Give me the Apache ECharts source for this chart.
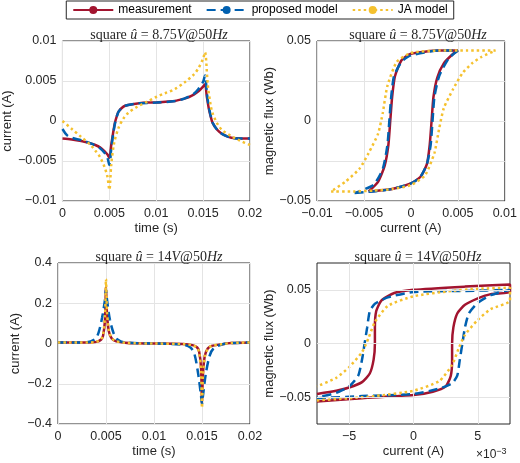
<!DOCTYPE html>
<html>
<head>
<meta charset="utf-8">
<script src="https://cdn.jsdelivr.net/npm/echarts@6.0.0/dist/echarts.min.js"></script>
<style>body{margin:0}#chart{width:520px;height:463px}</style>
</head>
<body>
<div id="chart"></div>
<script>
// top-left: current vs time, 8.75V
const measTL = [[0,-0.0022],[0.001,-0.0023],[0.002,-0.0025],[0.003,-0.0028],[0.0035,-0.003],[0.004,-0.0033],[0.0045,-0.0038],[0.0048,-0.0042],[0.005,-0.0046],[0.0052,-0.003],[0.0054,-0.0015],[0.0056,-0.0002],[0.0058,0.0006],[0.006,0.0012],[0.0065,0.0018],[0.007,0.002],[0.008,0.0022],[0.009,0.0023],[0.01,0.0023],[0.011,0.0024],[0.012,0.0025],[0.013,0.0028],[0.0135,0.003],[0.014,0.0033],[0.0145,0.0037],[0.015,0.0043],[0.0152,0.0046],[0.0154,0.003],[0.0156,0.0016],[0.0158,0.0006],[0.016,-0.0002],[0.0165,-0.0011],[0.017,-0.0016],[0.0175,-0.0019],[0.018,-0.0021],[0.019,-0.0022],[0.02,-0.0022]];
const propTL = [[0,-0.001],[0.0005,-0.0018],[0.001,-0.0021],[0.002,-0.0024],[0.003,-0.0028],[0.004,-0.0034],[0.0045,-0.004],[0.0048,-0.0046],[0.005,-0.0055],[0.0052,-0.0035],[0.0054,-0.0017],[0.0056,-0.0003],[0.0058,0.0006],[0.006,0.0012],[0.0065,0.0018],[0.007,0.002],[0.008,0.0022],[0.01,0.0023],[0.012,0.0025],[0.013,0.0028],[0.014,0.0034],[0.0145,0.004],[0.015,0.0049],[0.0152,0.0057],[0.0154,0.0035],[0.0156,0.0018],[0.0158,0.0007],[0.016,-0.0002],[0.0165,-0.0011],[0.017,-0.0016],[0.018,-0.0021],[0.019,-0.0022],[0.02,-0.0022]];
const jaTL = [[0,0],[0.001,-0.001],[0.002,-0.002],[0.003,-0.003],[0.0035,-0.0037],[0.004,-0.0045],[0.0045,-0.0058],[0.0048,-0.007],[0.005,-0.0086],[0.0052,-0.0055],[0.0055,-0.0028],[0.006,-0.0008],[0.0065,0.0003],[0.007,0.001],[0.008,0.0018],[0.009,0.0024],[0.01,0.003],[0.011,0.0035],[0.012,0.004],[0.013,0.0048],[0.014,0.0058],[0.0145,0.0066],[0.015,0.0078],[0.0152,0.0086],[0.0155,0.0045],[0.0158,0.002],[0.016,0.001],[0.0165,-0.0003],[0.017,-0.0011],[0.018,-0.0019],[0.019,-0.0025],[0.02,-0.003]];

// top-right: flux vs current, 8.75V
const measTR = [[-0.0045,-0.044],[-0.002,-0.0425],[0,-0.039],[0.001,-0.035],[0.0017,-0.027],[0.002,-0.015],[0.0022,0],[0.0024,0.015],[0.0028,0.027],[0.0035,0.036],[0.0045,0.042],[0.005,0.044],[0.003,0.044],[0,0.042],[-0.001,0.038],[-0.0017,0.028],[-0.002,0.015],[-0.0022,0],[-0.0024,-0.015],[-0.0028,-0.028],[-0.0035,-0.038],[-0.0045,-0.044]];
const propTR = [[-0.006,-0.045],[-0.004,-0.044],[-0.002,-0.0425],[0,-0.039],[0.001,-0.035],[0.0017,-0.027],[0.0021,-0.015],[0.0023,0],[0.0025,0.015],[0.003,0.028],[0.004,0.039],[0.005,0.044],[0.003,0.044],[0,0.041],[-0.001,0.037],[-0.0018,0.028],[-0.0021,0.015],[-0.0023,0],[-0.0025,-0.015],[-0.003,-0.03],[-0.004,-0.04],[-0.006,-0.045]];
const jaTR = [[-0.0085,-0.044],[-0.006,-0.044],[-0.004,-0.0435],[-0.002,-0.0425],[0,-0.04],[0.0015,-0.034],[0.0025,-0.02],[0.003,-0.005],[0.0035,0.008],[0.0045,0.02],[0.0055,0.03],[0.0065,0.036],[0.0075,0.04],[0.009,0.044],[0.006,0.044],[0.003,0.044],[0,0.0425],[-0.0015,0.037],[-0.0025,0.022],[-0.003,0.005],[-0.0035,-0.008],[-0.0045,-0.02],[-0.0055,-0.03],[-0.007,-0.038],[-0.0085,-0.044]];

// bottom-left: current vs time, 14V
const measBL = [[0,0.005],[0.003,0.005],[0.004,0.008],[0.0045,0.02],[0.0047,0.04],[0.0049,0.12],[0.005,0.28],[0.0051,0.15],[0.0053,0.06],[0.0056,0.025],[0.006,0.012],[0.007,0.004],[0.008,0.001],[0.01,0],[0.013,-0.003],[0.014,-0.008],[0.0145,-0.02],[0.0147,-0.04],[0.0149,-0.12],[0.015,-0.3],[0.0151,-0.15],[0.0153,-0.06],[0.0156,-0.025],[0.016,-0.012],[0.017,-0.004],[0.018,0.002],[0.02,0.005]];
const propBL = [[0,0.005],[0.003,0.006],[0.0038,0.02],[0.0042,0.05],[0.0046,0.13],[0.0049,0.22],[0.005,0.27],[0.0051,0.22],[0.0054,0.12],[0.0058,0.05],[0.0062,0.02],[0.007,0.005],[0.01,0],[0.013,-0.006],[0.0138,-0.02],[0.0142,-0.05],[0.0146,-0.15],[0.0149,-0.26],[0.015,-0.3],[0.0151,-0.26],[0.0154,-0.15],[0.0158,-0.06],[0.0162,-0.025],[0.017,-0.006],[0.018,0.002],[0.02,0.005]];
const jaBL = [[0,0.005],[0.003,0.005],[0.004,0.009],[0.0045,0.022],[0.0047,0.045],[0.0049,0.14],[0.005,0.32],[0.0051,0.16],[0.0053,0.065],[0.0056,0.027],[0.006,0.012],[0.007,0.004],[0.008,0.001],[0.01,0],[0.013,-0.003],[0.014,-0.009],[0.0145,-0.022],[0.0147,-0.045],[0.0149,-0.14],[0.015,-0.32],[0.0151,-0.16],[0.0153,-0.065],[0.0156,-0.027],[0.016,-0.012],[0.017,-0.004],[0.018,0.002],[0.02,0.005]];

// bottom-right: flux vs current (x in 1e-3 A), 14V
const measBR = [[-7.5,-0.054],[-4,-0.051],[0,-0.048],[1.5,-0.045],[2.5,-0.04],[2.9,-0.03],[3,-0.015],[3,0],[3.1,0.015],[3.4,0.028],[4,0.036],[5,0.042],[6,0.046],[7.5,0.048],[7.5,0.055],[4,0.053],[0,0.05],[-1.5,0.047],[-2.5,0.04],[-2.9,0.03],[-3,0.015],[-3,0],[-3.1,-0.015],[-3.4,-0.028],[-4,-0.036],[-5,-0.041],[-6,-0.044],[-7.5,-0.047]];
const propBR = [[-7.5,-0.051],[-4,-0.049],[0,-0.047],[2,-0.042],[3,-0.037],[3.4,-0.03],[3.6,-0.015],[3.8,0],[4,0.015],[4.3,0.028],[5,0.038],[6,0.045],[7.5,0.05],[4,0.049],[0,0.048],[-2,0.043],[-3,0.037],[-3.4,0.03],[-3.6,0.015],[-3.8,0],[-4,-0.015],[-4.3,-0.03],[-5,-0.04],[-6,-0.046],[-7.5,-0.05]];
const jaBR = [[-7.5,-0.053],[-5,-0.051],[-3,-0.049],[0,-0.044],[2,-0.035],[3,-0.02],[3.5,-0.005],[4,0.008],[5,0.022],[6,0.032],[7.5,0.04],[7.5,0.052],[5,0.051],[3,0.049],[0,0.044],[-2,0.035],[-3,0.02],[-3.5,0.005],[-4,-0.008],[-5,-0.022],[-6,-0.032],[-7.5,-0.04]];

const RED = '#A2142F', BLUE = '#0060B0', YEL = '#F5C12E';
const minus = v => String(+v.toPrecision(6)).replace('-', '\u2212');
const font = {fontFamily: 'Liberation Sans, Arial', fontSize: 12.5, color: '#262626'};

function xAx(i, min, max, interval, name, extra) {
  return Object.assign({
    type: 'value', gridIndex: i, min: min, max: max, interval: interval,
    name: name, nameLocation: 'middle', nameGap: 21,
    nameTextStyle: {fontFamily: 'Liberation Sans, Arial', fontSize: 13, color: '#262626'},
    axisLine: {show: false}, axisTick: {show: false},
    axisLabel: Object.assign({formatter: minus, margin: 6}, font),
    splitLine: {lineStyle: {color: '#e4e4e4'}}
  }, extra || {});
}
function yAx(i, min, max, interval, name, extra) {
  return xAx(i, min, max, interval, name, Object.assign({nameGap: 36}, extra || {}));
}
function ser(name, data, i, color, type) {
  return {
    name: name, type: 'line', data: data, xAxisIndex: i, yAxisIndex: i,
    symbol: 'none', smooth: 0.3, z: name === 'measurement' ? 2 : (type === 'dashed' ? 3 : 4),
    lineStyle: {color: color, width: 2.5, type: type === 'dashed' ? [9, 5] : (type === 'dotted' ? [2.5, 3] : 'solid')},
    itemStyle: {color: color}
  };
}
const title = (txt, left, top) => ({
  text: '{n|square} {i|\u00fb} {n|= ' + txt + '}{i|V}{n|@50}{i|Hz}',
  left: left, top: top, textAlign: 'center',
  textStyle: {rich: {n: {fontFamily: 'Liberation Serif', fontSize: 14, color: '#262626', fontWeight: 'normal'}, i: {fontFamily: 'Liberation Serif', fontStyle: 'italic', fontSize: 14, color: '#262626', fontWeight: 'normal'}},
    fontFamily: 'Liberation Serif', fontSize: 14, fontWeight: 'normal', color: '#262626'}
});

const gridBox = {show: true, borderColor: '#262626', borderWidth: 1, backgroundColor: '#fff'};
const fmt05 = v => (Math.abs(Math.round(v * 1000) % 50) === 0 ? minus(v) : '');

const chart = echarts.init(document.getElementById('chart'));
const gridLinesBR = {
  silent: true, symbol: 'none', label: {show: false},
  lineStyle: {color: '#e4e4e4', type: 'solid', width: 1},
  data: [{yAxis: -0.05}, {yAxis: 0}, {yAxis: 0.05}, {xAxis: -5}, {xAxis: 0}, {xAxis: 5}]
};
const series = [
  ser('measurement', measTL, 0, RED, 'solid'), ser('proposed model', propTL, 0, BLUE, 'dashed'), ser('JA model', jaTL, 0, YEL, 'dotted'),
  ser('measurement', measTR, 1, RED, 'solid'), ser('proposed model', propTR, 1, BLUE, 'dashed'), ser('JA model', jaTR, 1, YEL, 'dotted'),
  ser('measurement', measBL, 2, RED, 'solid'), ser('proposed model', propBL, 2, BLUE, 'dashed'), ser('JA model', jaBL, 2, YEL, 'dotted'),
  ser('measurement', measBR, 3, RED, 'solid'), ser('proposed model', propBR, 3, BLUE, 'dashed'), ser('JA model', jaBR, 3, YEL, 'dotted'),
  {type: 'line', data: [], xAxisIndex: 3, yAxisIndex: 3, markLine: gridLinesBR, z: 1}
];
series.forEach(s => { if (s.xAxisIndex === 1 || s.xAxisIndex === 3) s.smooth = 0.2; });

chart.setOption({
  animation: false,
  legend: {
    top: 1, left: 'center', data: ['measurement', 'proposed model', 'JA model'],
    itemWidth: 40, itemHeight: 10, itemGap: 14, padding: [3, 6],
    borderColor: '#262626', borderWidth: 1, backgroundColor: '#fff',
    textStyle: {fontFamily: 'Liberation Sans, Arial', fontSize: 12, color: '#000'}
  },
  title: [title('8.75', 154, 23), title('8.75', 413, 23), title('14', 154, 245), title('14', 413, 245)],
  grid: [
    Object.assign({left: 58, top: 41, width: 192, height: 160}, gridBox),
    Object.assign({left: 317, top: 41, width: 193, height: 160}, gridBox),
    Object.assign({left: 58, top: 263, width: 192, height: 161}, gridBox),
    Object.assign({left: 317, top: 263, width: 193, height: 161}, gridBox)
  ],
  xAxis: [
    xAx(0, 0, 0.02, 0.005, 'time (s)'),
    xAx(1, -0.01, 0.01, 0.005, 'current (A)'),
    xAx(2, 0, 0.02, 0.005, 'time (s)'),
    xAx(3, -7.5, 7.5, 2.5, 'current (A)', {splitLine: {show: false}, axisLabel: Object.assign({margin: 6, formatter: v => (v % 5 === 0 ? minus(v) : '')}, font)})
  ],
  yAxis: [
    yAx(0, -0.01, 0.01, 0.005, 'current (A)', {nameGap: 45}),
    yAx(1, -0.05, 0.05, 0.025, 'magnetic flux (Wb)', {nameGap: 38, axisLabel: Object.assign({margin: 6, formatter: fmt05}, font)}),
    yAx(2, -0.4, 0.4, 0.2, 'current (A)', {nameGap: 36}),
    yAx(3, -0.075, 0.075, 0.025, 'magnetic flux (Wb)', {nameGap: 40, splitLine: {show: false}, axisLabel: Object.assign({margin: 6, formatter: fmt05}, font)})
  ],
  graphic: [{
    type: 'text', left: 476, top: 447,
    style: {text: '\u00d710{s|\u22123}', fill: '#262626', font: '12px Liberation Sans, Arial',
      rich: {s: {fontSize: 9, verticalAlign: 'top', padding: [0, 0, 6, 0]}}}
  }],
  series: series
});
</script>
</body>
</html>
